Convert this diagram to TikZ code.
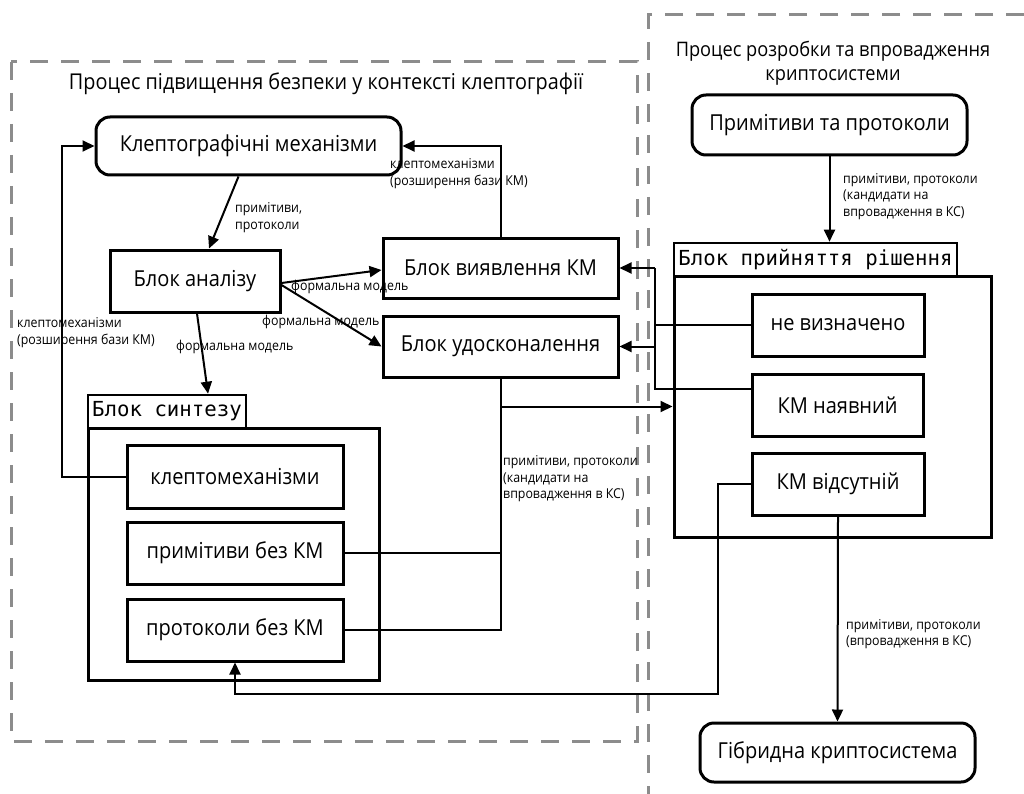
\documentclass[tikz,border=0pt]{standalone}
\usepackage{fontspec}
\setmainfont[FakeStretch=0.91]{Open Sans}
\newfontfamily\monofont{DejaVu Sans Mono}
\usetikzlibrary{arrows.meta,calc}
\tikzset{
  box/.style={draw,line width=3pt,inner sep=0pt,font=\fontsize{22}{24}\selectfont},
  rbox/.style={box,rounded corners=14pt},
  lbl/.style={draw,line width=2.6pt,inner sep=0pt,font=\monofont\fontsize{20.7}{22}\selectfont},
  outer/.style={draw,line width=3pt,inner sep=0pt},
  arr/.style={line width=2pt,-{Triangle[length=12pt,width=11pt]}},
  ln/.style={line width=2pt},
  small/.style={font=\fontsize{13.6}{16.5}\selectfont,inner sep=0pt,align=left,anchor=west},
  title/.style={font=\fontsize{21.8}{24}\selectfont,inner sep=0pt,align=center},
  region/.style={draw=black!45,line width=3pt,dash pattern=on 18pt off 13pt}
}
\begin{document}
\begin{tikzpicture}[x=1pt,y=-1pt]
\useasboundingbox (0,0) rectangle (1024,794);
% regions
\draw[region] (11,62) rectangle (637,741);
\draw[region] (1024,15) -- (648,15) -- (648,794);
\node[title] (t1) at (326,84) {Процес підвищення безпеки у контексті клептографії};
\node[title,font=\fontsize{20}{24}\selectfont] (t2) at (833,63) {Процес розробки та впровадження\\криптосистеми};
% left nodes
\node[rbox,minimum width=305pt,minimum height=58pt] (klepto) at (248.5,146) {Клептографічні механізми};
\node[box,minimum width=170pt,minimum height=62pt] (analiz) at (195,281) {Блок аналізу};
\node[box,minimum width=235pt,minimum height=60pt] (vyyav) at (500.5,268) {Блок виявлення КМ};
\node[box,minimum width=235pt,minimum height=61pt] (udosk) at (500.5,346.5) {Блок удосконалення};
\node[outer,minimum width=291pt,minimum height=252pt] (syntouter) at (233.5,554) {};
\node[lbl,minimum width=158pt,minimum height=33pt] (syntlabel) at (167,411.5) {Блок синтезу};
\node[box,minimum width=216pt,minimum height=63pt] (km1) at (235,476.5) {клептомеханізми};
\node[box,minimum width=216pt,minimum height=62pt] (prim) at (235,553) {примітиви без КМ};
\node[box,minimum width=216pt,minimum height=62pt] (prot) at (235,630) {протоколи без КМ};
% right nodes
\node[rbox,minimum width=275pt,minimum height=60pt] (pp) at (829.5,125) {Примітиви та протоколи};
\node[outer,minimum width=317pt,minimum height=261pt] (rishouter) at (832.5,406.5) {};
\node[lbl,minimum width=283pt,minimum height=33pt] (rishlabel) at (815.5,259.5) {Блок прийняття рішення};
\node[box,minimum width=172pt,minimum height=62pt] (nev) at (838,325) {не визначено};
\node[box,minimum width=171pt,minimum height=62pt] (kmn) at (837.5,405) {КМ наявний};
\node[box,minimum width=172pt,minimum height=62pt] (kmv) at (838,484) {КМ відсутній};
\node[rbox,minimum width=275pt,minimum height=59pt] (hyb) at (837.5,752.5) {Гібридна криптосистема};
% connectors left
\draw[arr] ([xshift=-10pt]klepto.south) -- ([xshift=14pt]analiz.north);
\draw[arr] ([yshift=-2pt]analiz.east) -- ([yshift=-2pt]vyyav.west);
\draw[arr] ([yshift=-4pt]analiz.east) -- (udosk.west);
\draw[arr] ([xshift=2pt]analiz.south) -- ([xshift=41pt]syntlabel.north);
\draw[arr] (vyyav.north) |- (klepto.east);
\draw[arr] (km1.west) -- ++(-64,0) |- (klepto.west);
\draw[ln] (prot.east) -| (udosk.south);
\draw[ln] (prim.east) -- (prim.east -| udosk.south);
\draw[arr] (udosk.south |- rishouter.west) -- (rishouter.west);
% connectors right
\coordinate (bus) at (655,300);
\draw[arr] (pp.south) -- (pp.south |- rishlabel.north);
\draw[ln] (nev.west) -- (bus |- nev.west);
\draw[ln] ([yshift=16pt]kmn.west) -| (bus |- vyyav.east);
\draw[arr] (bus |- vyyav.east) -- (vyyav.east);
\draw[arr] (bus |- udosk.east) -- (udosk.east);
\coordinate (kv) at (718,694);
\draw[arr] (kmv.west) -| (kv) -| (prot.south);
\draw[arr] (kmv.south) -- (hyb.north);
% labels
\node[small] (l1) at (235,217.5) {примітиви,\\протоколи};
\node[small] (l2) at (291,287) {формальна модель};
\node[small] (l3) at (262,322) {формальна модель};
\node[small] (l4) at (176,347) {формальна модель};
\node[small] (l5) at (390,173.5) {клептомеханізми\\(розширення бази КМ)};
\node[small] (l6) at (17,332.5) {клептомеханізми\\(розширення бази КМ)};
\node[small] (l7) at (503,479) {примітиви, протоколи\\(кандидати на\\впровадження в КС)};
\node[small] (l8) at (843,196.5) {примітиви, протоколи\\(кандидати на\\впровадження в КС)};
\node[small] (l9) at (846,634) {примітиви, протоколи\\(впровадження в КС)};
\end{tikzpicture}
\end{document}
